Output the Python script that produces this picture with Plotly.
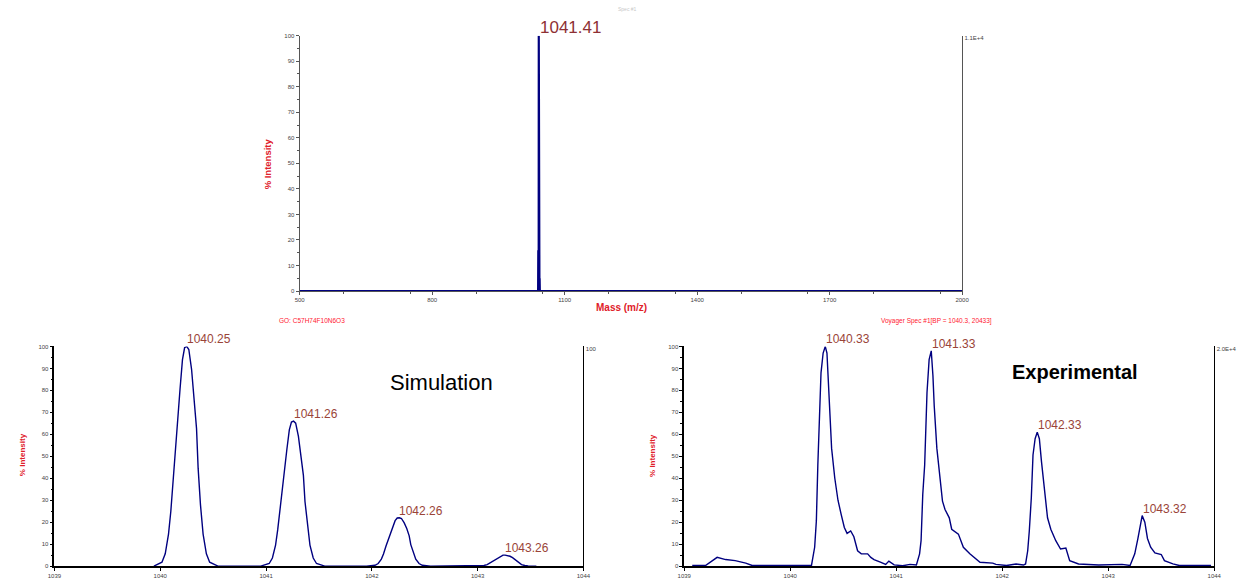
import plotly.graph_objects as go

# ---- full-range survey spectrum (m/z 500-2000) ----
survey_mz = [500, 1039.9, 1040.33, 1040.7, 1041.2, 1041.41, 1041.7, 1042.33, 1042.9, 1043.32, 1043.8, 2000]
survey_int = [0, 0, 16, 1, 3, 100, 4, 12, 1, 5, 0, 0]
survey_peak = (1041.41, 100)

# ---- simulated isotope pattern ----
sim_mz = [
    1039.94, 1040.016, 1040.047, 1040.078, 1040.10, 1040.124, 1040.147, 1040.165, 1040.187, 1040.21, 1040.23,
    1040.25, 1040.27, 1040.296, 1040.32, 1040.343, 1040.358, 1040.38, 1040.405, 1040.436, 1040.467, 1040.545,
    1040.95, 1041.03, 1041.06, 1041.09, 1041.11, 1041.134, 1041.157, 1041.175, 1041.197, 1041.22, 1041.24,
    1041.26, 1041.28, 1041.306, 1041.33, 1041.353, 1041.368, 1041.39, 1041.415, 1041.446, 1041.477, 1041.555,
    1041.95, 1042.03, 1042.06, 1042.09, 1042.11, 1042.134, 1042.157, 1042.175, 1042.197, 1042.22, 1042.24,
    1042.26, 1042.28, 1042.306, 1042.33, 1042.353, 1042.368, 1042.39, 1042.415, 1042.446, 1042.477, 1042.555,
    1042.95, 1043.03, 1043.06, 1043.09, 1043.11, 1043.134, 1043.157, 1043.175, 1043.197, 1043.22, 1043.24,
    1043.26, 1043.28, 1043.306, 1043.33, 1043.353, 1043.368, 1043.39, 1043.415, 1043.446, 1043.477, 1043.555,
]
sim_int = [
    0, 1.8, 5.6, 14.6, 25, 41.6, 55, 68.6, 80.6, 94, 99.4,
    100, 98.6, 89.6, 77.6, 62.6, 44.6, 28, 14.6, 5.6, 1.8, 0,
    0, 1.2, 3.7, 9.6, 16.5, 27.5, 36.3, 45.3, 53.2, 62, 65.6,
    66, 65.1, 59.1, 51.2, 41.3, 29.4, 18.5, 9.6, 3.7, 1.2, 0,
    0, 0.4, 1.2, 3.2, 5.5, 9.2, 12.1, 15.1, 17.7, 20.7, 21.9,
    22, 21.7, 19.7, 17.1, 13.8, 9.8, 6.2, 3.2, 1.2, 0.4, 0,
    0, 0.1, 0.3, 0.7, 1.3, 2.1, 2.8, 3.4, 4.0, 4.7, 5.0,
    5.0, 4.9, 4.5, 3.9, 3.1, 2.2, 1.4, 0.7, 0.3, 0.1, 0,
]
sim_peaks_mz = [1040.25, 1041.26, 1042.26, 1043.26]
sim_peaks_int = [100, 66, 22, 5]

# ---- measured isotope pattern ----
exp_mz = [
    1039.075, 1039.16, 1039.20, 1039.31, 1039.39, 1039.48, 1039.58, 1039.64, 1040.20,
    1040.23, 1040.246, 1040.26, 1040.277, 1040.29, 1040.31, 1040.33, 1040.346, 1040.36, 1040.377,
    1040.39, 1040.42, 1040.45, 1040.48, 1040.51, 1040.536, 1040.57, 1040.60, 1040.635, 1040.67,
    1040.73, 1040.76, 1040.79, 1040.85, 1040.90, 1040.93, 1040.98, 1041.06, 1041.13, 1041.19,
    1041.22, 1041.234, 1041.25, 1041.268, 1041.29, 1041.31, 1041.33, 1041.346, 1041.358, 1041.383,
    1041.41, 1041.436, 1041.46, 1041.50, 1041.523, 1041.586, 1041.633, 1041.694, 1041.79, 1041.91,
    1041.94, 1042.04, 1042.13, 1042.20, 1042.22, 1042.24, 1042.255, 1042.274, 1042.29, 1042.31,
    1042.33, 1042.35, 1042.37, 1042.395, 1042.427, 1042.458, 1042.505, 1042.55, 1042.60, 1042.636,
    1042.72, 1042.91, 1043.13, 1043.206, 1043.25, 1043.28, 1043.30, 1043.32, 1043.345, 1043.37,
    1043.40, 1043.44, 1043.50, 1043.53, 1043.61, 1043.67, 1043.97,
]
exp_int = [
    0.3, 0.3, 0.3, 4.0, 3.0, 2.5, 1.4, 0.3, 0.3,
    8.6, 20.6, 46, 68.6, 88, 97, 100, 97, 82, 68.6,
    53.6, 40, 30, 23.6, 17.6, 14.9, 16, 13.4, 7, 5.6,
    5.6, 4, 3, 1.8, 0.8, 2.3, 0.6, 0.2, 0.8, 0.5,
    5.6, 11.6, 32.6, 46, 79, 94, 98, 86.6, 73, 53.6,
    40, 29.6, 25.8, 22, 16.8, 14.6, 8.6, 5.6, 1.8, 1.4,
    0.8, 0.3, 1.0, 0.5, 1.0, 7, 16, 31, 50.6, 58,
    61, 58, 47.6, 35.6, 22, 16.8, 11.6, 7.8, 8.2, 2.5,
    1.0, 0.5, 0.8, 0.3, 5.6, 12.6, 18.5, 23, 20, 12.6,
    8.6, 6, 5.3, 2.5, 1.0, 0.3, 0.3,
]
exp_peaks_mz = [1040.33, 1041.33, 1042.33, 1043.32]
exp_peaks_int = [100, 98, 61, 23]

LINE = "#000080"
LABEL = "#9a4438"
TITLE_RED = "#e0202a"
FONT = "Liberation Sans, Arial, sans-serif"
W, H = 1243, 584


def px_x(p):
    return p / W


def px_y(p):
    return 1 - p / H


fig = go.Figure()
fig.add_trace(go.Scatter(x=survey_mz, y=survey_int, mode="lines",
                         line=dict(color=LINE, width=2.2), xaxis="x", yaxis="y", hoverinfo="skip"))
fig.add_trace(go.Scatter(x=sim_mz, y=sim_int, mode="lines",
                         line=dict(color=LINE, width=1.4), xaxis="x2", yaxis="y2", hoverinfo="skip"))
fig.add_trace(go.Scatter(x=exp_mz, y=exp_int, mode="lines",
                         line=dict(color=LINE, width=1.4), xaxis="x3", yaxis="y3", hoverinfo="skip"))
# empty traces that carry the right-hand intensity scales
for ya, xa in (("y4", "x"), ("y5", "x2"), ("y6", "x3")):
    fig.add_trace(go.Scatter(x=[None], y=[None], xaxis=xa, yaxis=ya, showlegend=False, hoverinfo="skip"))

tick_font = dict(family=FONT, size=6, color="#444")

top_x = [296, 966]
top_y = [33, 291]
bl_x = [48, 583]
br_x = [685, 1221]
bot_y = [347, 569]


def xaxis(dom, rng, dtick, minor_dtick, anchor, linecolor, lw):
    ax = dict(domain=[px_x(dom[0]), px_x(dom[1])], range=rng, dtick=dtick, tick0=rng[0],
              showgrid=False, zeroline=False, showline=True, linecolor=linecolor, linewidth=lw,
              ticks="outside", ticklen=3, tickcolor=linecolor, tickwidth=1,
              tickfont=tick_font, anchor=anchor, fixedrange=True)
    if minor_dtick:
        ax["minor"] = dict(ticks="outside", ticklen=2, dtick=minor_dtick, tickcolor=linecolor)
    return ax


def yaxis(dom, anchor, linecolor, lw):
    return dict(domain=[px_y(dom[1]), px_y(dom[0])], range=[0, 100], dtick=10,
                showgrid=False, zeroline=False, showline=True, linecolor=linecolor, linewidth=lw,
                ticks="outside", ticklen=3, tickcolor=linecolor, tickwidth=1,
                tickfont=tick_font, anchor=anchor, fixedrange=True,
                minor=dict(ticks="outside", ticklen=2, dtick=5, tickcolor=linecolor))


def right_axis(overlay, anchor, label, linecolor, lw):
    return dict(overlaying=overlay, side="right", anchor=anchor, range=[0, 100],
                tickvals=[99], ticktext=[label], ticks="", showgrid=False, zeroline=False,
                showline=True, linecolor=linecolor, linewidth=lw, tickfont=tick_font, fixedrange=True)


fig.update_layout(
    width=W, height=H, margin=dict(l=0, r=0, t=0, b=0),
    paper_bgcolor="white", plot_bgcolor="white", showlegend=False,
    font=dict(family=FONT),
    xaxis=xaxis(top_x, [500, 2000], 300, 150, "y", "#555", 1.2),
    yaxis=yaxis(top_y, "x", "#555", 1.2),
    xaxis2=xaxis(bl_x, [1039, 1044], 1, None, "y2", "black", 1.6),
    yaxis2=yaxis(bot_y, "x2", "black", 1.6),
    xaxis3=xaxis(br_x, [1039, 1044], 1, None, "y3", "black", 1.6),
    yaxis3=yaxis(bot_y, "x3", "black", 1.6),
    yaxis4=right_axis("y", "x", "1.1E+4", "#555", 1.2),
    yaxis5=right_axis("y2", "x2", "100", "black", 1.4),
    yaxis6=right_axis("y3", "x3", "2.0E+4", "black", 1.4),
)


def paper_text(xp, yp, text, size, color, angle=0, xanchor="center"):
    return dict(x=px_x(xp), y=px_y(yp), xref="paper", yref="paper", text=text,
                xanchor=xanchor, yanchor="middle", textangle=angle, showarrow=False,
                font=dict(family=FONT, size=size, color=color))


ann = []
# peak labels
ann.append(dict(x=survey_peak[0], y=survey_peak[1], xref="x", yref="y", text="1041.41",
                xanchor="left", yanchor="bottom", xshift=-1, yshift=-3, showarrow=False,
                font=dict(family=FONT, size=17, color="#8e3034")))
for mz, inten in zip(sim_peaks_mz, sim_peaks_int):
    ann.append(dict(x=mz, y=inten, xref="x2", yref="y2", text=f"{mz:.2f}",
                    xanchor="left", yanchor="bottom", xshift=-2, yshift=-2, showarrow=False,
                    font=dict(family=FONT, size=12, color=LABEL)))
for mz, inten in zip(exp_peaks_mz, exp_peaks_int):
    ann.append(dict(x=mz, y=inten, xref="x3", yref="y3", text=f"{mz:.2f}",
                    xanchor="left", yanchor="bottom", xshift=-1, yshift=-2, showarrow=False,
                    font=dict(family=FONT, size=12, color=LABEL)))

# panel captions
ann.append(paper_text(439, 383, "Simulation", 22, "black"))
ann.append(paper_text(1080, 373, "<b>Experimental</b>", 20, "black"))

# axis titles
ann.append(paper_text(263, 163, "<b>% Intensity</b>", 9.5, TITLE_RED, angle=-90))
ann.append(paper_text(622, 308, "<b>Mass (m/z)</b>", 10, TITLE_RED))
ann.append(paper_text(15, 456, "<b>% Intensity</b>", 8, TITLE_RED, angle=-90))
ann.append(paper_text(653, 457, "<b>% Intensity</b>", 8, TITLE_RED, angle=-90))

# acquisition notes
ann.append(paper_text(273, 321, "GO: C57H74F10N6O3", 6.5, "#ff2030", xanchor="left"))
ann.append(paper_text(882, 321, "Voyager Spec #1[BP = 1040.3, 20433]", 6.5, "#ff2030", xanchor="left"))
ann.append(paper_text(628, 6, "Spec #1", 5, "#c8c8c8"))

fig.update_layout(annotations=ann)
fig.write_html("out.html")
